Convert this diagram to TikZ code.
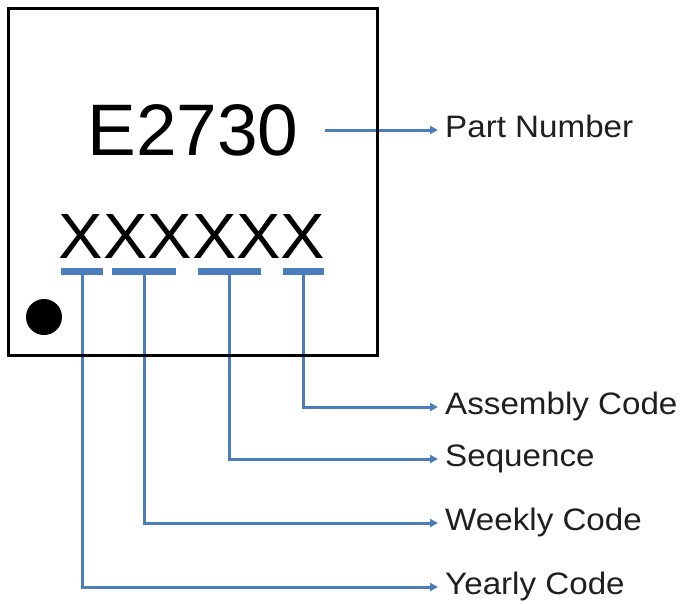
\documentclass[tikz,border=0pt]{standalone}
\usepackage{fontspec}
\setmainfont{Liberation Sans}
\newfontfamily\widesans[FakeStretch=1.07]{Liberation Sans}
\newfontfamily\codesans[FakeStretch=1.04]{Liberation Sans}
\usetikzlibrary{arrows.meta}
\definecolor{lineblue}{RGB}{74,126,187}
\tikzset{
  conn/.style={draw=lineblue, line width=3pt, -{Triangle[length=8pt,width=8pt]}, shorten >=7pt},
  codebar/.style={fill=lineblue, draw=none, minimum height=7pt, inner sep=0pt},
  lbl/.style={anchor=west, inner sep=0pt, text height=22pt, text depth=8pt, font=\widesans\fontsize{31}{36}\selectfont, text=black!88},
  chipbox/.style={draw=black, line width=3pt},
}
\begin{document}
\begin{tikzpicture}[x=1pt,y=-1pt]
\useasboundingbox (0,0) rectangle (682,603);
% labels
\node[lbl] (pn) at (445,130) {Part Number};
\node[lbl] (asm) at (445,407) {Assembly Code};
\node[lbl] (seq) at (445,459) {Sequence};
\node[lbl] (wk) at (445,523) {Weekly Code};
\node[lbl] (yr) at (445,587) {Yearly Code};
% chip text
\node[anchor=base, inner sep=0pt, font=\fontsize{73}{80}\selectfont] (pnum) at (193,155) {E2730};
\node[anchor=base, inner sep=0pt, font=\codesans\fontsize{64}{72}\selectfont] (code) at (192,258) {XXXXXX};
% code bars
\node[codebar, minimum width=42pt] (b1) at (82,271) {};
\node[codebar, minimum width=64pt] (b2) at (144,271) {};
\node[codebar, minimum width=63pt] (b3) at (229,271) {};
\node[codebar, minimum width=41pt] (b4) at (303,271) {};
% connectors
\coordinate (pnstart) at (325,130);
\draw[conn] (pnstart) -- (pn.west);
\draw[conn] (b4.center) |- (asm.west);
\draw[conn] (b3.center) |- (seq.west);
\draw[conn] (b2.center) |- (wk.west);
\draw[conn] (b1.center) |- (yr.west);
% chip outline and pin-1 dot
\draw[chipbox] (8,8) rectangle (377.5,355.5);
\fill[black] (44,317) circle (18);
\end{tikzpicture}
\end{document}
